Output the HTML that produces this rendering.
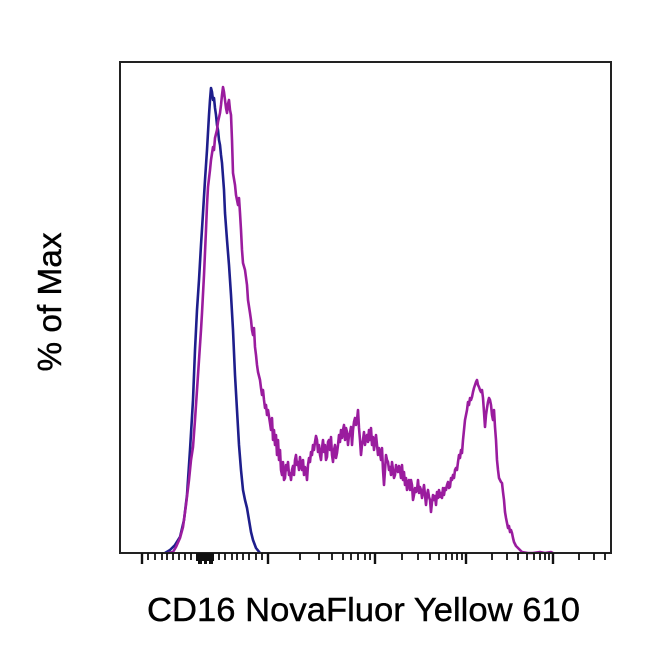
<!DOCTYPE html>
<html><head><meta charset="utf-8"><style>
html,body{margin:0;padding:0;background:#fff;width:650px;height:662px;overflow:hidden}
svg{display:block}
</style></head><body>
<svg width="650" height="662" viewBox="0 0 650 662" xmlns="http://www.w3.org/2000/svg">
<rect x="0" y="0" width="650" height="662" fill="#fff"/>
<polyline fill="none" stroke="#1e1e8c" stroke-width="2.6" stroke-linejoin="round" points="165,553 170,550 175,545 180,537 184,520 187,495 190,450 193,400 195,350 197,310 199,280 201,245 203,213 205,180 207,150 209,115 210,100 211,88 212,92 213,100 214,98 215,108 216,115 217,125 218,130 219,140 220,145 221,155 222,163 224,190 225,213 227,240 229,265 231,295 233,330 235,375 237,410 239,445 241,470 243,490 245,500 247,508 249,520 251,532 253,540 256,548 260,553"/>
<polyline fill="none" stroke="#9a1c9e" stroke-width="2.6" stroke-linejoin="round" points="168,553 173,552 176,547 180,538 183,527 186,505 189,480 191,460 193,447 195,420 197,390 199,360 201,330 202,313 204,275 206,230 207,205 208,187 210,170 211,160 213,147 214,150 215,138 217,130 218,122 220,113 221,105 222,95 223,87 224,92 225,100 226,108 227,113 228,104 229,100 230,110 231,115 232,140 233,173 235,185 236,195 237,200 238,205 239,198 240,213 241,230 242,250 243,263 245,270 247,285 248,300 250,313 251,320 252,330 253,335 254,328 255,347 256,355 257,365 258,372 260,380 261,388 262,395 263,390 264,400 265,408 266,405 267,415 268,410 270,423 271,430 272,418 273,440 274,430 275,445 276,435 277,455 278,440 279,460 280,450 281,470 282,475 283,462 284,480 285,478 286,465 287,470 288,462 289,475 290,473 291,480 292,470 293,466 294,475 295,460 296,455 297,465 298,462 299,470 300,457 301,465 302,470 303,460 304,475 305,467 306,470 307,480 308,465 309,458 310,462 311,452 312,455 313,445 314,450 315,442 316,436 317,440 318,452 319,445 320,455 321,460 322,448 323,440 324,452 325,445 326,460 327,457 328,442 329,440 330,450 331,437 332,455 333,462 334,450 335,445 336,458 337,453 338,445 339,435 340,442 341,430 342,438 343,430 344,425 345,440 346,428 347,432 348,445 349,435 350,433 351,427 352,445 353,430 354,422 355,418 356,425 357,420 358,410 359,428 360,440 361,455 362,445 363,440 364,432 365,445 366,438 367,435 368,442 369,430 370,440 371,428 372,445 373,437 374,450 375,442 376,435 377,445 378,455 379,448 380,453 381,460 382,448 383,470 384,485 385,470 386,455 387,460 388,462 389,470 390,467 391,475 392,462 393,470 394,478 395,475 396,465 397,470 398,472 399,466 400,470 401,478 402,465 403,480 404,472 405,485 406,478 407,490 408,482 409,480 410,490 411,480 412,485 413,500 414,495 415,488 416,492 417,490 418,480 419,493 420,487 421,490 422,498 423,492 424,485 425,495 426,505 427,495 428,490 429,497 430,500 431,512 432,502 433,495 434,500 435,496 436,505 437,492 438,498 439,490 440,497 441,493 442,498 443,488 444,495 445,488 446,490 447,485 448,482 449,488 450,487 451,478 452,480 453,475 454,478 455,470 456,468 457,470 458,462 459,455 460,458 461,450 462,453 463,440 464,430 465,420 466,415 467,410 468,402 469,405 470,398 471,400 472,397 473,392 474,388 475,385 476,382 477,380 478,385 479,387 480,390 481,392 482,390 483,398 484,412 485,427 486,415 487,408 488,402 489,398 490,400 491,405 492,415 493,420 494,410 495,427 496,440 497,460 498,470 499,478 500,480 501,482 502,483 503,492 504,500 505,512 506,518 507,523 508,528 509,526 510,532 511,530 512,533 513,538 514,542 515,544 516,546 517,547 519,549 522,552 528,553 533,553 540,552 545,553 551,552 553,553"/>
<rect x="120" y="62" width="491" height="491" fill="none" stroke="#222" stroke-width="2"/>
<g stroke="#111" stroke-width="2.4">
<line x1="142" y1="553" x2="142" y2="564"/>
<line x1="268" y1="553" x2="268" y2="564"/>
<line x1="375" y1="553" x2="375" y2="564"/>
<line x1="466" y1="553" x2="466" y2="564"/>
<line x1="553" y1="553" x2="553" y2="564"/>
</g>
<g stroke="#111" stroke-width="1.8">
<line x1="148" y1="553" x2="148" y2="560"/>
<line x1="155" y1="553" x2="155" y2="560"/>
<line x1="162" y1="553" x2="162" y2="560"/>
<line x1="167" y1="553" x2="167" y2="560"/>
<line x1="173" y1="553" x2="173" y2="560"/>
<line x1="179" y1="553" x2="179" y2="560"/>
<line x1="185" y1="553" x2="185" y2="560"/>
<line x1="191" y1="553" x2="191" y2="560"/>
<line x1="219" y1="553" x2="219" y2="560"/>
<line x1="225" y1="553" x2="225" y2="560"/>
<line x1="232" y1="553" x2="232" y2="560"/>
<line x1="237" y1="553" x2="237" y2="560"/>
<line x1="243" y1="553" x2="243" y2="560"/>
<line x1="249" y1="553" x2="249" y2="560"/>
<line x1="256" y1="553" x2="256" y2="560"/>
<line x1="262" y1="553" x2="262" y2="560"/>
<line x1="300" y1="553" x2="300" y2="560"/>
<line x1="319" y1="553" x2="319" y2="560"/>
<line x1="332" y1="553" x2="332" y2="560"/>
<line x1="343" y1="553" x2="343" y2="560"/>
<line x1="351" y1="553" x2="351" y2="560"/>
<line x1="358" y1="553" x2="358" y2="560"/>
<line x1="365" y1="553" x2="365" y2="560"/>
<line x1="370" y1="553" x2="370" y2="560"/>
<line x1="402" y1="553" x2="402" y2="560"/>
<line x1="418" y1="553" x2="418" y2="560"/>
<line x1="430" y1="553" x2="430" y2="560"/>
<line x1="439" y1="553" x2="439" y2="560"/>
<line x1="446" y1="553" x2="446" y2="560"/>
<line x1="452" y1="553" x2="452" y2="560"/>
<line x1="457" y1="553" x2="457" y2="560"/>
<line x1="462" y1="553" x2="462" y2="560"/>
<line x1="492" y1="553" x2="492" y2="560"/>
<line x1="507" y1="553" x2="507" y2="560"/>
<line x1="518" y1="553" x2="518" y2="560"/>
<line x1="527" y1="553" x2="527" y2="560"/>
<line x1="534" y1="553" x2="534" y2="560"/>
<line x1="540" y1="553" x2="540" y2="560"/>
<line x1="545" y1="553" x2="545" y2="560"/>
<line x1="549" y1="553" x2="549" y2="560"/>
<line x1="579" y1="553" x2="579" y2="560"/>
<line x1="594" y1="553" x2="594" y2="560"/>
<line x1="605" y1="553" x2="605" y2="560"/>
</g>
<rect x="196" y="553" width="18" height="8" fill="#111"/>
<rect x="198" y="553" width="4" height="11" fill="#111"/>
<rect x="204" y="553" width="3" height="11" fill="#111"/>
<rect x="209" y="553" width="4" height="11" fill="#111"/>
<text x="363.5" y="621" text-anchor="middle" font-family="Liberation Sans, Arial, sans-serif" font-size="33" fill="#000" stroke="#000" stroke-width="0.4" textLength="433" lengthAdjust="spacingAndGlyphs">CD16 NovaFluor Yellow 610</text>
<text transform="translate(61,302) rotate(-90)" x="0" y="0" text-anchor="middle" font-family="Liberation Sans, Arial, sans-serif" font-size="33" fill="#000" stroke="#000" stroke-width="0.4" textLength="139" lengthAdjust="spacingAndGlyphs">% of Max</text>
</svg>
</body></html>
